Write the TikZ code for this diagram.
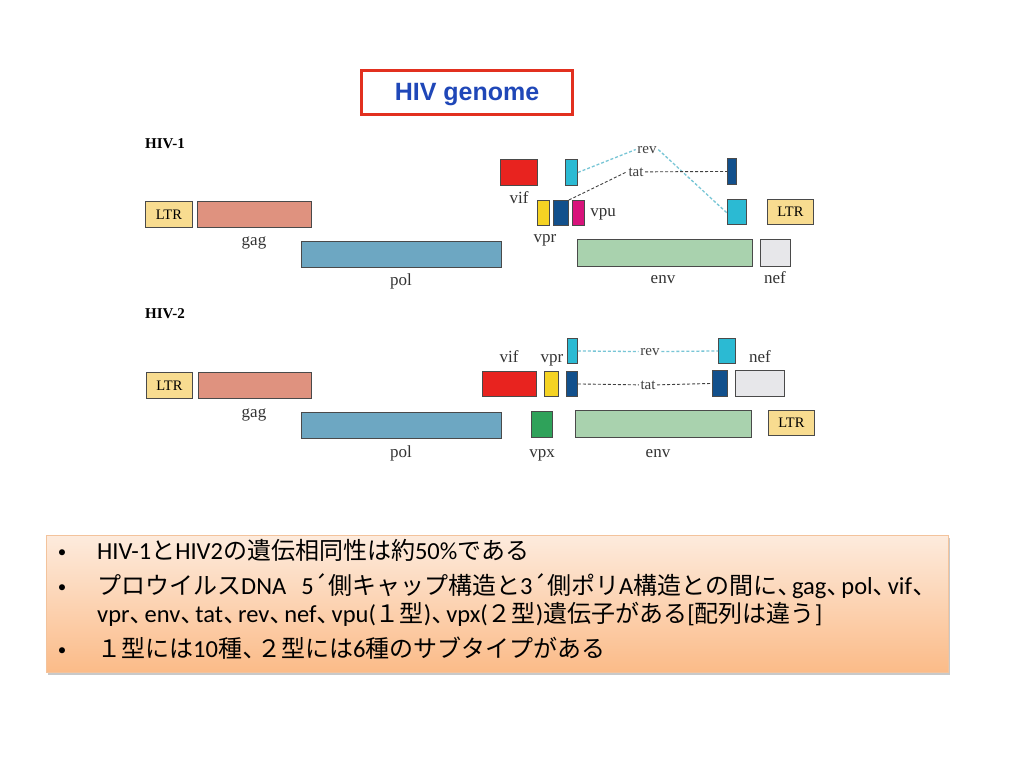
\documentclass[tikz,border=0pt]{standalone}
\usepackage{fontspec}
\setmainfont{Carlito}
\newfontfamily\jpfont{Noto Sans CJK JP}
\newfontfamily\serif{Liberation Serif}
\newfontfamily\arial{Liberation Sans}
\usetikzlibrary{shadows}
\newcommand\J[1]{{\jpfont\fontsize{24}{28}\selectfont #1}}
\newcommand\CM{\hspace{1pt}{\jpfont\fontsize{24}{28}\selectfont ､}\hspace{2pt}}
\definecolor{cLTR}{HTML}{F8DC90}
\definecolor{cgag}{HTML}{DF927F}
\definecolor{cpol}{HTML}{6DA7C2}
\definecolor{cvif}{HTML}{E8231F}
\definecolor{ccyan}{HTML}{2BBAD3}
\definecolor{cdblue}{HTML}{12508C}
\definecolor{cvpr}{HTML}{F5D323}
\definecolor{cvpu}{HTML}{D8137B}
\definecolor{cenv}{HTML}{A9D2AE}
\definecolor{cnef}{HTML}{E7E7EA}
\definecolor{cvpx}{HTML}{2FA25A}
\definecolor{cline}{HTML}{4A4A4A}
\definecolor{crev}{HTML}{78C6D6}
\definecolor{ctitle}{HTML}{1F47B8}
\definecolor{cred}{HTML}{E2301F}
\definecolor{boxtop}{HTML}{FDEBDD}
\definecolor{boxbot}{HTML}{FBBB88}
\definecolor{boxedge}{HTML}{F3C39C}
\tikzset{
  gene/.style={draw=cline, line width=0.9pt, anchor=north west, inner sep=0pt, font=\serif\fontsize{14.5}{16}\selectfont},
  lbl/.style={anchor=base, inner sep=0pt, font=\serif\fontsize{17}{19}\selectfont, text=black!80},
  hivlbl/.style={anchor=base west, inner sep=0pt, font=\serif\bfseries\fontsize{15}{17}\selectfont},
  joinlbl/.style={anchor=base, inner sep=1.5pt, font=\serif\fontsize{15}{17}\selectfont, text=black!75},
  revline/.style={draw=crev, line width=1.3pt, dash pattern=on 3pt off 2pt},
  tatline/.style={draw=black!75, line width=0.9pt, dash pattern=on 3pt off 2pt},
  bullet/.style={anchor=base west, inner sep=0pt, font=\fontsize{24.5}{28}\selectfont},
  dot/.style={anchor=base, inner sep=0pt, font=\fontsize{17}{20}\selectfont},
}
\begin{document}
\begin{tikzpicture}[x=1pt,y=-1pt]
\useasboundingbox[fill=white] (0,0) rectangle (1024,768);

% title
\node[draw=cred, line width=3pt, anchor=north west, minimum width=211pt, minimum height=44pt,
  text height=20pt, text depth=4pt,
  font=\arial\bfseries\fontsize{25}{28}\selectfont, text=ctitle] (title) at (360,69) {HIV genome};

% ---------------- HIV-1 ----------------
\node[hivlbl] (h1) at (145,148) {HIV-1};
\node[gene, fill=cLTR, minimum width=47pt, minimum height=26pt] (ltr1a) at (145,201) {LTR};
\node[gene, fill=cgag, minimum width=114pt, minimum height=26pt] (gag1) at (197,201) {};
\node[gene, fill=cpol, minimum width=200pt, minimum height=26pt] (pol1) at (301,241) {};
\node[gene, fill=cvif, minimum width=37pt, minimum height=26pt] (vif1) at (500,159) {};
\node[gene, fill=ccyan, minimum width=12pt, minimum height=26pt] (rev1a) at (565,159) {};
\node[gene, fill=cdblue, minimum width=9pt, minimum height=26pt] (tat1b) at (727,158) {};
\node[gene, fill=cvpr, minimum width=12pt, minimum height=25pt] (vpr1) at (537,200) {};
\node[gene, fill=cdblue, minimum width=15pt, minimum height=25pt] (tat1a) at (553,200) {};
\node[gene, fill=cvpu, minimum width=12pt, minimum height=25pt] (vpu1) at (572,200) {};
\node[gene, fill=ccyan, minimum width=19pt, minimum height=25pt] (rev1b) at (727,199) {};
\node[gene, fill=cLTR, minimum width=46pt, minimum height=25pt] (ltr1b) at (767,199) {LTR};
\node[gene, fill=cenv, minimum width=175pt, minimum height=27pt] (env1) at (577,239) {};
\node[gene, fill=cnef, minimum width=30pt, minimum height=27pt] (nef1) at (760,239) {};

\node[lbl] (lgag1) at (254,245) {gag};
\node[lbl] (lpol1) at (401,285) {pol};
\node[lbl] (lvif1) at (519,203) {vif};
\node[lbl] (lvpr1) at (545,242) {vpr};
\node[lbl] (lvpu1) at (603,216) {vpu};
\node[lbl] (lenv1) at (663,283) {env};
\node[lbl] (lnef1) at (775,283) {nef};

\node[joinlbl] (lrev1) at (647,153) {rev};
\node[joinlbl] (ltat1) at (636,176) {tat};
\draw[revline] (rev1a.east) -- (lrev1.west);
\draw[revline] (lrev1.east) -- ([yshift=-1pt]rev1b.west);
\draw[tatline] (tat1a.north east) -- (ltat1.west);
\draw[tatline] (ltat1.east) -- (tat1b.west);

% ---------------- HIV-2 ----------------
\node[hivlbl] (h2) at (145,318) {HIV-2};
\node[gene, fill=cLTR, minimum width=46pt, minimum height=26pt] (ltr2a) at (146,372) {LTR};
\node[gene, fill=cgag, minimum width=113pt, minimum height=26pt] (gag2) at (198,372) {};
\node[gene, fill=cpol, minimum width=200pt, minimum height=26pt] (pol2) at (301,412) {};
\node[gene, fill=cvif, minimum width=54pt, minimum height=25pt] (vif2) at (482,371) {};
\node[gene, fill=cvpr, minimum width=14pt, minimum height=25pt] (vpr2) at (544,371) {};
\node[gene, fill=ccyan, minimum width=10pt, minimum height=25pt] (rev2a) at (567,338) {};
\node[gene, fill=cdblue, minimum width=11pt, minimum height=25pt] (tat2a) at (566,371) {};
\node[gene, fill=ccyan, minimum width=17pt, minimum height=25pt] (rev2b) at (718,338) {};
\node[gene, fill=cdblue, minimum width=15pt, minimum height=26pt] (tat2b) at (712,370) {};
\node[gene, fill=cnef, minimum width=49pt, minimum height=26pt] (nef2) at (735,370) {};
\node[gene, fill=cvpx, minimum width=21pt, minimum height=26pt] (vpx2) at (531,411) {};
\node[gene, fill=cenv, minimum width=176pt, minimum height=27pt] (env2) at (575,410) {};
\node[gene, fill=cLTR, minimum width=46pt, minimum height=25pt] (ltr2b) at (768,410) {LTR};

\node[lbl] (lgag2) at (254,417) {gag};
\node[lbl] (lpol2) at (401,457) {pol};
\node[lbl] (lvif2) at (509,362) {vif};
\node[lbl] (lvpr2) at (552,362) {vpr};
\node[lbl] (lnef2) at (760,362) {nef};
\node[lbl] (lvpx2) at (542,457) {vpx};
\node[lbl] (lenv2) at (658,457) {env};

\node[joinlbl] (lrev2) at (650,355) {rev};
\node[joinlbl] (ltat2) at (648,389) {tat};
\draw[revline] (rev2a.east) -- (lrev2.west);
\draw[revline] (lrev2.east) -- (rev2b.west);
\draw[tatline] (tat2a.east) -- (ltat2.west);
\draw[tatline] (ltat2.east) -- (tat2b.west);

% ---------------- text box ----------------
\node[anchor=north west, minimum width=902pt, minimum height=137pt, inner sep=0pt,
  top color=boxtop, bottom color=boxbot, draw=boxedge, line width=0.6pt,
  drop shadow={opacity=0.35, shadow xshift=1.5pt, shadow yshift=-2.5pt, fill=black!60}] (box) at (46,535) {};

\node[dot] (b1) at (62,557) {•};
\node[bullet] (t1) at (97,559) {HIV-1\J{と}HIV2\J{の遺伝相同性は約}50\%\J{である}};
\node[dot] (b2) at (62,592) {•};
\node[bullet] (t2) at (97,594) {\J{プロウイルス}DNA\hspace{15pt}5\J{´側キャップ構造と}3\J{´側ポリ}A\J{構造との間に}\CM gag\CM pol\CM vif\CM};
\node[bullet] (t3) at (97,622) {vpr\CM env\CM tat\CM rev\CM nef\CM vpu(\J{１型})\CM vpx(\J{２型})\J{遺伝子がある}[\J{配列は違う}]};
\node[dot] (b4) at (62,655) {•};
\node[bullet] (t4) at (97,657) {\J{１型には}10\J{種}\CM\J{２型には}6\J{種のサブタイプがある}};
\end{tikzpicture}
\end{document}
